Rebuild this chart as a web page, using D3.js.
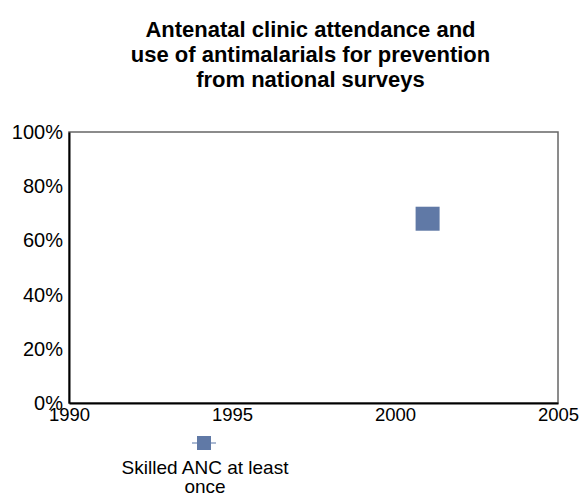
<!DOCTYPE html>
<html>
<head>
<meta charset="utf-8">
<script src="https://cdn.jsdelivr.net/npm/d3@7"></script>
<style>
  body { margin: 0; background: #fff; }
  svg { font-family: Arial, "Liberation Sans", sans-serif; }
</style>
</head>
<body>
<svg id="chart" width="580" height="498"></svg>
<script>
const titleLines = ['Antenatal clinic attendance and', 'use of antimalarials for prevention', 'from national surveys'];
const years = [2001];
const ancValues = [0.68];
const xTicks = [1990, 1995, 2000, 2005];
const yTicks = [0, 0.2, 0.4, 0.6, 0.8, 1];
const legendLines = ['Skilled ANC at least', 'once'];

const svg = d3.select('#chart');
const m = {left: 69, right: 22, top: 132, bottom: 95};
const W = 580, H = 498;
const x = d3.scaleLinear().domain([1990, 2005]).range([m.left, W - m.right]);
const y = d3.scaleLinear().domain([0, 1]).range([H - m.bottom, m.top]);
const cx = (m.left + W - m.right) / 2 - 3;

// title
svg.append('g').selectAll('text').data(titleLines).enter().append('text')
  .attr('x', cx).attr('y', (d, i) => 37 + i * 25)
  .attr('text-anchor', 'middle').attr('font-weight', 'bold').attr('font-size', 22)
  .text(d => d);

// plot frame
svg.append('rect')
  .attr('x', m.left).attr('y', m.top)
  .attr('width', W - m.right - m.left).attr('height', H - m.bottom - m.top)
  .attr('fill', 'none').attr('stroke', '#666').attr('stroke-width', 1.5);

const xAxis = svg.append('g').attr('transform', `translate(0,${H - m.bottom})`)
  .call(d3.axisBottom(x).tickValues(xTicks).tickFormat(d3.format('d')).tickSize(0).tickPadding(3));
const yAxis = svg.append('g').attr('transform', `translate(${m.left},0)`)
  .call(d3.axisLeft(y).tickValues(yTicks).tickFormat(d3.format('.0%')).tickSize(0).tickPadding(6));
[xAxis, yAxis].forEach(a => {
  a.select('.domain').attr('stroke', '#000').attr('stroke-width', 2);
  a.selectAll('text').attr('fill', '#000').attr('font-family', 'Arial, "Liberation Sans", sans-serif');
});
xAxis.selectAll('text').attr('font-size', 18.5).attr('dy', '0.8em');
yAxis.selectAll('text').attr('font-size', 20);

// points
const sq = 24;
svg.append('g').selectAll('rect').data(years).enter().append('rect')
  .attr('x', (d) => x(d) - sq / 2).attr('y', (d, i) => y(ancValues[i]) - sq / 2)
  .attr('width', sq).attr('height', sq).attr('fill', '#6079a6');

// legend
const lx = 204, ly = 443;
svg.append('line').attr('x1', lx - 12).attr('x2', lx + 12).attr('y1', ly).attr('y2', ly)
  .attr('stroke', '#8fa3c4').attr('stroke-width', 1.5);
svg.append('rect').attr('x', lx - 7).attr('y', ly - 7).attr('width', 14).attr('height', 14).attr('fill', '#6079a6');
svg.append('g').selectAll('text').data(legendLines).enter().append('text')
  .attr('x', lx + 1).attr('y', (d, i) => 474 + i * 19)
  .attr('text-anchor', 'middle').attr('font-size', 19)
  .text(d => d);
</script>
</body>
</html>
